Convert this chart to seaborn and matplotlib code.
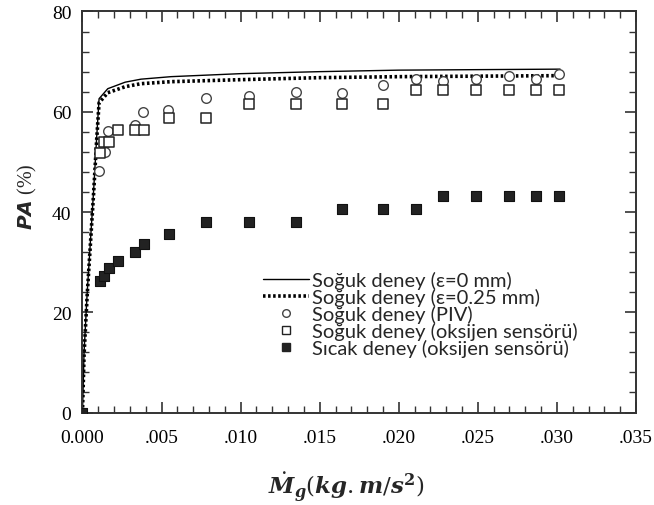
import numpy as np
import pandas as pd
import matplotlib
matplotlib.use("Agg")
import matplotlib.pyplot as plt
from matplotlib.ticker import MultipleLocator, FixedLocator, FixedFormatter
from matplotlib.lines import Line2D
import seaborn as sns

# ---- data ----
line0_x = [0.0, 0.0001, 0.0003, 0.0005, 0.0007, 0.0009, 0.00105, 0.0016, 0.0027, 0.0037, 0.0056, 0.0100, 0.0150, 0.0200, 0.0250, 0.0302]
line0_y = [0.0, 12.0, 24.0, 34.0, 44.0, 55.0, 62.6, 64.6, 65.9, 66.5, 67.0, 67.6, 68.0, 68.3, 68.4, 68.5]
line25_x = [0.0, 0.0001, 0.0003, 0.0005, 0.0007, 0.0009, 0.00105, 0.0016, 0.0027, 0.0037, 0.0056, 0.0100, 0.0150, 0.0200, 0.0250, 0.0302]
line25_y = [0.0, 11.5, 23.5, 33.5, 43.5, 54.5, 61.8, 63.8, 65.0, 65.6, 66.0, 66.4, 66.8, 67.0, 67.1, 67.2]

piv_x = [0.00106, 0.00142, 0.00163, 0.00332, 0.00385, 0.00543, 0.00783, 0.0105, 0.0135, 0.01644, 0.0190, 0.0211, 0.0228, 0.0249, 0.0270, 0.0287, 0.0301]
piv_y = [48.2, 52.0, 56.2, 57.4, 59.9, 60.4, 62.8, 63.1, 64.0, 63.7, 65.3, 66.6, 66.2, 66.6, 67.1, 66.5, 67.5]

sq_x = [0.00108, 0.00135, 0.00165, 0.00226, 0.00332, 0.00386, 0.00544, 0.00783, 0.0105, 0.0135, 0.01644, 0.0190, 0.0211, 0.0228, 0.0249, 0.0270, 0.0287, 0.0301]
cold_o2_y = [51.8, 53.9, 53.9, 56.3, 56.3, 56.3, 58.7, 58.7, 61.6, 61.6, 61.6, 61.6, 64.3, 64.3, 64.3, 64.3, 64.3, 64.3]
hot_x = [0.0] + sq_x
hot_o2_y = [0.0, 26.3, 27.3, 28.9, 30.2, 32.0, 33.7, 35.7, 38.0, 38.0, 38.0, 40.5, 40.5, 40.5, 43.2, 43.2, 43.2, 43.2, 43.2]

labels = ["Soğuk deney (ε=0 mm)", "Soğuk deney (ε=0.25 mm)", "Soğuk deney (PIV)",
          "Soğuk deney (oksijen sensörü)", "Sıcak deney (oksijen sensörü)"]
xticks = [0.0, 0.005, 0.010, 0.015, 0.020, 0.025, 0.030, 0.035]
xticklabels = ["0.000", ".005", ".010", ".015", ".020", ".025", ".030", ".035"]
yticks = [0, 20, 40, 60, 80]

# ---- plot ----
sns.set_theme(style="white")
plt.rcParams["font.family"] = ["Liberation Serif", "DejaVu Serif"]

fig = plt.figure(figsize=(6.54, 5.06), dpi=100)
ax = fig.add_axes([0.1261, 0.1828, 0.9725 - 0.1261, 0.9753 - 0.1828])

sns.lineplot(x=line0_x, y=line0_y, ax=ax, color="black", lw=1.0, sort=False, estimator=None)
sns.lineplot(x=line25_x, y=line25_y, ax=ax, color="black", lw=2.6, sort=False, estimator=None,
             linestyle=(0, (0.7, 0.7)))
sns.scatterplot(x=piv_x, y=piv_y, ax=ax, marker="o", s=48, facecolor="white",
                edgecolor="#444444", linewidth=1.0, zorder=4)
sns.scatterplot(x=sq_x, y=cold_o2_y, ax=ax, marker="s", s=52, facecolor="white",
                edgecolor="#222222", linewidth=1.1, zorder=4)
sns.scatterplot(x=hot_x, y=hot_o2_y, ax=ax, marker="s", s=62, facecolor="#222222",
                edgecolor="#111111", linewidth=0.8, zorder=5)

ax.set_xlim(0, 0.035)
ax.set_ylim(0, 80)
ax.xaxis.set_major_locator(FixedLocator(xticks))
ax.xaxis.set_major_formatter(FixedFormatter(xticklabels))
ax.xaxis.set_minor_locator(MultipleLocator(0.001))
ax.yaxis.set_major_locator(FixedLocator(yticks))
ax.yaxis.set_minor_locator(MultipleLocator(4))
ax.tick_params(which="both", direction="in", top=True, right=True, bottom=True, left=True,
               colors="#333333", labelcolor="black", labelsize=14)
ax.tick_params(which="major", length=8, width=1.2)
ax.tick_params(which="minor", length=5, width=1.0)
ax.tick_params(axis="x", which="major", pad=12)
ax.tick_params(axis="y", which="major", pad=8)
for sp in ax.spines.values():
    sp.set_color("#333333")
    sp.set_linewidth(1.4)

ax.set_xlabel(r"$\dot{\mathbfit{M}}_{\mathbfit{g}}(\mathbfit{kg}.\mathbfit{m}/\mathbfit{s}^{\mathbf{2}})$",
              fontsize=16.5, math_fontfamily="dejavuserif")
ax.xaxis.set_label_coords(0.476, -0.183)
ax.xaxis.label.set_verticalalignment("center")
ax.set_ylabel(r"$\mathbfit{PA}$ (%)", fontsize=14.5, math_fontfamily="dejavusans")
ax.yaxis.set_label_coords(-0.100, 0.54)
ax.yaxis.label.set_verticalalignment("center")

handles = [
    Line2D([], [], color="black", lw=1.0),
    Line2D([], [], color="black", lw=2.6, linestyle=(0, (0.7, 0.7))),
    Line2D([], [], color="#444444", marker="o", markerfacecolor="white", markersize=5.5, lw=0),
    Line2D([], [], color="#222222", marker="s", markerfacecolor="white", markersize=6, lw=0),
    Line2D([], [], color="#222222", marker="s", markerfacecolor="#222222", markersize=6, lw=0),
]
leg = ax.legend(handles, labels, loc="upper left", bbox_to_anchor=(0.326, 0.352),
                frameon=False, borderpad=0, borderaxespad=0, handlelength=2.3,
                handletextpad=0.15, labelspacing=-0.06,
                prop={"family": ["Lato", "DejaVu Sans"], "size": 14.5})

fig.savefig("out.png", dpi=100)
